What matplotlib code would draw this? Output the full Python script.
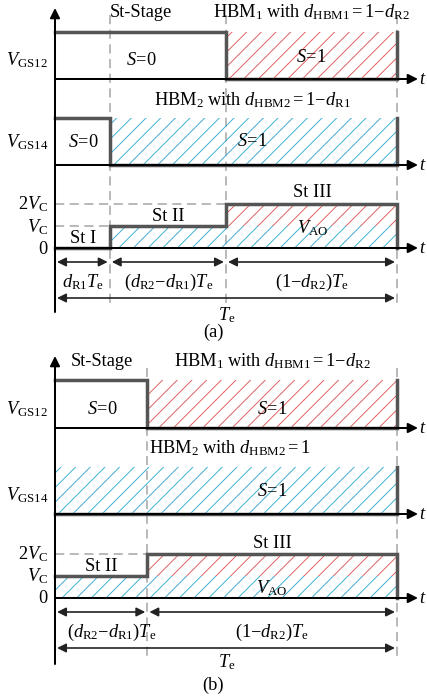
import matplotlib
matplotlib.use("Agg")
import matplotlib.pyplot as plt

plt.rcParams['font.family'] = ['Liberation Serif', 'DejaVu Serif']
plt.rcParams['mathtext.fontset'] = 'custom'
plt.rcParams['mathtext.rm'] = 'Liberation Serif'
plt.rcParams['mathtext.it'] = 'Liberation Serif:italic'
plt.rcParams['hatch.linewidth'] = 0.5

# switching instants as fractions of Te
d_R1 = 0.16
d_R2 = 0.50
d_st_b = 0.27          # (d_R2 - d_R1) in case (b)

# case (a): edges and levels of each waveform
a_edges = [0, d_R1, d_R2, 1]
a_gs12 = [1, 1, 0]
a_gs14 = [1, 0, 0]
a_vao = [0, 1, 2]      # in units of V_C
# case (b)
b_edges = [0, d_st_b, 1]
b_gs12 = [1, 0]
b_gs14 = [0, 0]
b_vao = [1, 2]
end_gs, end_vao = 1, 0

RED = '#e05a5a'
BLUE = '#35acd0'
WAVE = '#555555'
GUIDE = '#b4b4b4'
FS = 10

# layout in pixels: (baseline, height of one unit)
rows_a = {'gs12': (79, 47), 'gs14': (165, 47), 'vao': (248, 22)}
rows_b = {'gs12': (428, 48), 'gs14': (514, 47), 'vao': (598, 22)}

DPI = 132
fig = plt.figure(figsize=(427.01 / DPI, 698.01 / DPI), dpi=DPI)
ax = fig.add_axes([0, 0, 1, 1])
ax.set_xlim(-55 / 342, 372 / 342)
ax.set_ylim(698, 0)
ax.axis('off')


def px(x):
    return (x - 55) / 342


def step_xy(edges, levels, end):
    xs, ys = [], []
    for i, lv in enumerate(levels):
        xs += [edges[i], edges[i + 1]]
        ys += [lv, lv]
    xs.append(edges[-1])
    ys.append(end)
    return xs, ys


def wave(row, edges, levels, end):
    base, h = row
    xs, ys = step_xy(edges, levels, end)
    ax.plot(xs, [base - y * h for y in ys], color=WAVE, lw=1.9, zorder=5,
            solid_joinstyle='miter')


def hatch(row, t0, t1, lo, hi, color):
    base, h = row
    ax.fill_between([t0, t1], base - lo * h, base - hi * h, facecolor='none',
                    edgecolor=color, hatch='///', linewidth=0, zorder=1)


def arrow(x0, y0, x1, y1, both=False, lw=1.1, ms=11, color='black'):
    ax.annotate('', xy=(x1, y1), xytext=(x0, y0),
                arrowprops=dict(arrowstyle='<|-|>' if both else '-|>', color=color,
                                lw=lw, mutation_scale=ms, shrinkA=0, shrinkB=0),
                zorder=6)


def label(x, y, s, ha='center', fs=FS):
    ax.text(x, y, s, ha=ha, va='center', fontsize=fs, zorder=7)


def panel(rows, edges, gs12, gs14, vao, y_top, y_bot, vline_top, vline_bot):
    # time axes
    for r in rows.values():
        arrow(0, r[0], px(418), r[0])
        ax.text(px(419), r[0], '$t$', ha='left', va='center', fontsize=FS)
    arrow(0, y_bot, 0, y_top)
    # vertical guides
    for e in edges[1:]:
        ax.plot([e, e], [vline_top, vline_bot], color=GUIDE, lw=1.0,
                dashes=(5, 3), zorder=0)
    # horizontal guides for V_AO levels
    base, h = rows['vao']
    for lv in (1, 2):
        if min(vao) < lv:
            t_end = max(edges[i + 1] for i, v in enumerate(vao) if v < lv)
            ax.plot([0, t_end], [base - lv * h] * 2, color=GUIDE, lw=1.0,
                    dashes=(5, 3), zorder=0)
    wave(rows['gs12'], edges, gs12, end_gs)
    wave(rows['gs14'], edges, gs14, end_gs)
    wave(rows['vao'], edges, vao, end_vao)


def dims(edges, y_seg, y_all):
    for t0, t1 in zip(edges[:-1], edges[1:]):
        arrow(t0 + 0.006, y_seg, t1 - 0.006, y_seg, both=True, lw=0.9, ms=10,
              color='#222222')
    arrow(0.006, y_all, 0.994, y_all, both=True, lw=0.9, ms=10, color='#222222')


HBM1 = r'HBM$_1$ with $d_{\rm HBM1}{=}1{-}d_{\rm R2}$'

# ---------- (a) ----------
hatch(rows_a['gs12'], d_R2, 1, 0, 1, RED)
hatch(rows_a['gs14'], d_R1, 1, 0, 1, BLUE)
hatch(rows_a['vao'], d_R1, 1, 0, 1, BLUE)
hatch(rows_a['vao'], d_R2, 1, 1, 2, RED)
panel(rows_a, a_edges, a_gs12, a_gs14, a_vao, 8, 312, 15, 308)

label(px(141), 12, 'St-Stage')
label(px(311), 12, HBM1)
label(px(48), 60, r'$V_{\rm GS12}$', ha='right')
label(px(141), 60, r'$S\!=\!0$')
label(px(311), 57, r'$S\!=\!1$')
label(px(252), 100, r'HBM$_2$ with $d_{\rm HBM2}{=}1{-}d_{\rm R1}$')
label(px(48), 142, r'$V_{\rm GS14}$', ha='right')
label(px(83), 142, r'$S\!=\!0$')
label(px(252), 141, r'$S\!=\!1$')
label(px(48), 204, r'2$V_{\rm C}$', ha='right')
label(px(48), 227, r'$V_{\rm C}$', ha='right')
label(px(47), 249, '0', ha='right')
label(px(83), 238, 'St I')
label(px(168), 216, 'St II')
label(px(312), 192, 'St III')
label(px(313), 228, r'$V_{\rm AO}$')
dims(a_edges, 262, 298)
label(px(83), 282, r'$d_{\rm R1}T_{\rm e}$')
label(px(169), 282, r'$(d_{\rm R2}{-}d_{\rm R1})T_{\rm e}$')
label(px(312), 282, r'$(1{-}d_{\rm R2})T_{\rm e}$')
label(px(227), 315, r'$T_{\rm e}$')
label(px(213), 332, '(a)')

# ---------- (b) ----------
hatch(rows_b['gs12'], d_st_b, 1, 0, 1, RED)
hatch(rows_b['gs14'], 0, 1, 0, 1, BLUE)
hatch(rows_b['vao'], 0, 1, 0, 1, BLUE)
hatch(rows_b['vao'], d_st_b, 1, 1, 2, RED)
panel(rows_b, b_edges, b_gs12, b_gs14, b_vao, 356, 664, 368, 657)

label(px(102), 361, 'St-Stage')
label(px(272), 361, HBM1)
label(px(48), 409, r'$V_{\rm GS12}$', ha='right')
label(px(102), 409, r'$S\!=\!0$')
label(px(272), 409, r'$S\!=\!1$')
label(px(230), 448, r'HBM$_2$ with $d_{\rm HBM2}{=}1$')
label(px(48), 495, r'$V_{\rm GS14}$', ha='right')
label(px(272), 491, r'$S\!=\!1$')
label(px(48), 554, r'2$V_{\rm C}$', ha='right')
label(px(48), 576, r'$V_{\rm C}$', ha='right')
label(px(47), 598, '0', ha='right')
label(px(101), 566, 'St II')
label(px(272), 543, 'St III')
label(px(272), 588, r'$V_{\rm AO}$')
dims(b_edges, 612, 648)
label(px(112), 632, r'$(d_{\rm R2}{-}d_{\rm R1})T_{\rm e}$')
label(px(272), 632, r'$(1{-}d_{\rm R2})T_{\rm e}$')
label(px(227), 662, r'$T_{\rm e}$')
label(px(213), 685, '(b)')

fig.savefig('out.png', dpi=DPI)
